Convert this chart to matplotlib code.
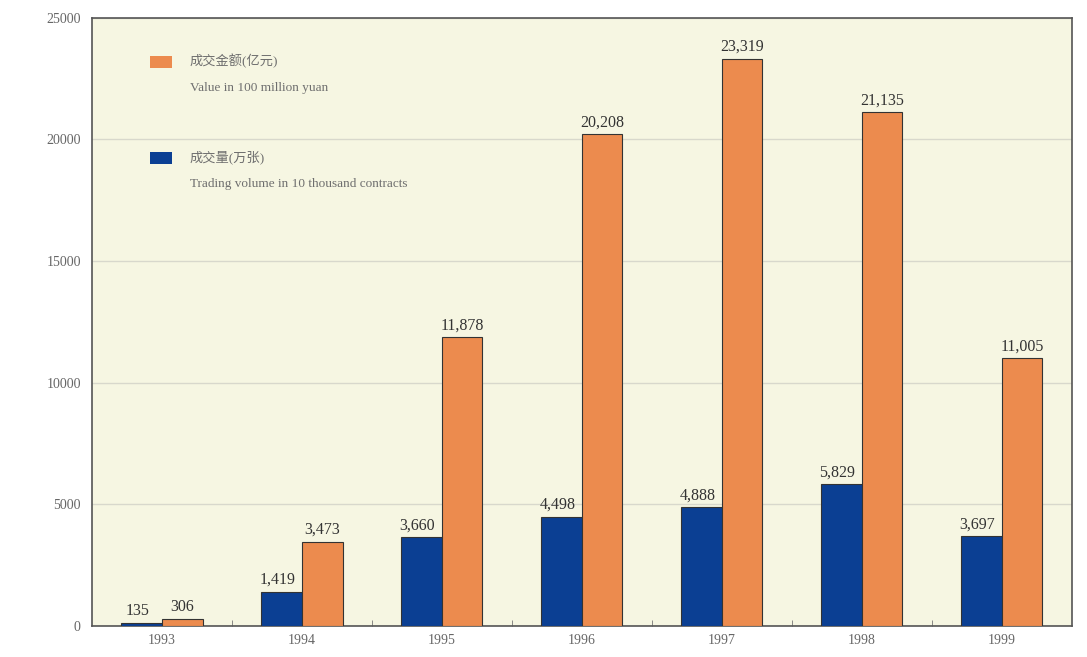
import matplotlib.pyplot as plt
import numpy as np
from matplotlib.patches import Rectangle

years = ['1993', '1994', '1995', '1996', '1997', '1998', '1999']
volume = [135, 1419, 3660, 4498, 4888, 5829, 3697]        # 成交量(万张)
value = [306, 3473, 11878, 20208, 23319, 21135, 11005]    # 成交金额(亿元)
yticks = [0, 5000, 10000, 15000, 20000, 25000]

serif = ['Liberation Serif', 'Noto Sans CJK SC']
plt.rcParams['font.family'] = serif

fig = plt.figure(figsize=(10.87, 6.57), dpi=100)
ax = fig.add_axes([0.0846, 0.047, 0.9014, 0.926])
ax.set_facecolor('#f6f6e2')

x = np.arange(len(years))
w = 0.29
blue = '#0b3f93'
orange = '#ec8b4e'
ax.bar(x - w / 2, volume, w, color=blue, edgecolor='#333333', linewidth=0.8, zorder=3)
ax.bar(x + w / 2, value, w, color=orange, edgecolor='#333333', linewidth=0.8, zorder=3)

for i in range(len(years)):
    ax.text(x[i] - w / 2 - 0.03, volume[i] + 150, f'{volume[i]:,}', ha='center', va='bottom',
            fontsize=11.5, color='#333333', zorder=4)
    ax.text(x[i] + w / 2, value[i] + 150, f'{value[i]:,}', ha='center', va='bottom',
            fontsize=11.5, color='#333333', zorder=4)

ax.set_xlim(-0.5, len(years) - 0.5)
ax.set_ylim(0, 25000)
ax.set_yticks(yticks)
ax.set_yticklabels([str(t) for t in yticks], fontsize=10, color='#666666')
ax.set_xticks(x)
ax.set_xticklabels(years, fontsize=10, color='#666666')
ax.tick_params(axis='x', length=0, pad=6)
ax.tick_params(axis='y', length=0, pad=8)
ax.set_xticks(x[:-1] + 0.5, minor=True)
ax.tick_params(axis='x', which='minor', direction='in', length=4, color='#777777')
ax.grid(axis='y', color='#d8d8cc', linewidth=1.0, zorder=0)
for s in ax.spines.values():
    s.set_color('#555555')
    s.set_linewidth(1.2)

# legend
ax.add_patch(Rectangle((0.059, 0.918), 0.023, 0.019, transform=ax.transAxes,
                       facecolor=orange, edgecolor='none', zorder=5))
ax.text(0.100, 0.928, '成交金额(亿元)', transform=ax.transAxes, fontsize=9.5,
        color='#6e6e6e', va='center')
ax.text(0.100, 0.885, 'Value in 100 million yuan', transform=ax.transAxes, fontsize=9.5,
        color='#6e6e6e', va='center')
ax.add_patch(Rectangle((0.059, 0.760), 0.023, 0.019, transform=ax.transAxes,
                       facecolor=blue, edgecolor='none', zorder=5))
ax.text(0.100, 0.770, '成交量(万张)', transform=ax.transAxes, fontsize=9.5,
        color='#6e6e6e', va='center')
ax.text(0.100, 0.727, 'Trading volume in 10 thousand contracts', transform=ax.transAxes,
        fontsize=9.5, color='#6e6e6e', va='center')

fig.savefig('out.png', dpi=100)
